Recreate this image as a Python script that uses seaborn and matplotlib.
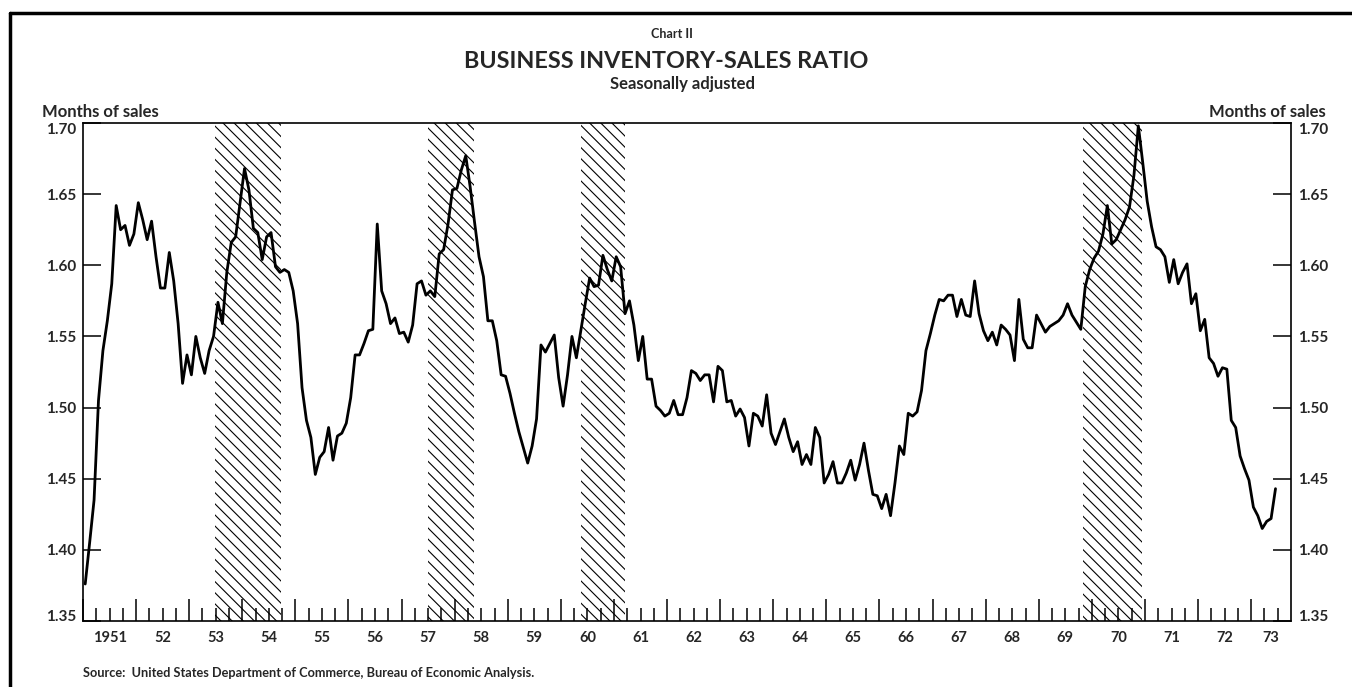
import numpy as np
import pandas as pd
import seaborn as sns
import matplotlib.pyplot as plt
from matplotlib.lines import Line2D

## DATA: business inventory-sales ratio, monthly, Jan 1951 - Jun 1973
ratio_1951 = [1.376, 1.405, 1.435, 1.505, 1.540, 1.561, 1.587, 1.642, 1.625, 1.628, 1.614, 1.622]
ratio_1952 = [1.644, 1.632, 1.618, 1.631, 1.606, 1.584, 1.584, 1.609, 1.589, 1.559, 1.517, 1.537]
ratio_1953 = [1.523, 1.550, 1.535, 1.524, 1.540, 1.550, 1.574, 1.559, 1.595, 1.616, 1.620, 1.644]
ratio_1954 = [1.668, 1.653, 1.626, 1.623, 1.604, 1.620, 1.623, 1.599, 1.595, 1.597, 1.595, 1.582]
ratio_1955 = [1.559, 1.514, 1.491, 1.479, 1.453, 1.465, 1.469, 1.486, 1.463, 1.480, 1.482, 1.489]
ratio_1956 = [1.507, 1.537, 1.537, 1.545, 1.554, 1.555, 1.629, 1.582, 1.573, 1.559, 1.563, 1.552]
ratio_1957 = [1.553, 1.546, 1.558, 1.587, 1.589, 1.579, 1.582, 1.578, 1.608, 1.611, 1.629, 1.653]
ratio_1958 = [1.654, 1.667, 1.677, 1.655, 1.630, 1.606, 1.592, 1.561, 1.561, 1.547, 1.523, 1.522]
ratio_1959 = [1.510, 1.496, 1.483, 1.472, 1.461, 1.473, 1.492, 1.544, 1.539, 1.545, 1.551, 1.521]
ratio_1960 = [1.501, 1.523, 1.550, 1.535, 1.554, 1.573, 1.591, 1.585, 1.586, 1.607, 1.597, 1.589]
ratio_1961 = [1.606, 1.599, 1.566, 1.575, 1.558, 1.533, 1.550, 1.520, 1.520, 1.501, 1.498, 1.494]
ratio_1962 = [1.496, 1.505, 1.495, 1.495, 1.507, 1.526, 1.524, 1.519, 1.523, 1.523, 1.504, 1.529]
ratio_1963 = [1.526, 1.504, 1.505, 1.494, 1.499, 1.493, 1.473, 1.496, 1.494, 1.487, 1.509, 1.482]
ratio_1964 = [1.474, 1.483, 1.492, 1.479, 1.469, 1.476, 1.460, 1.467, 1.460, 1.486, 1.479, 1.447]
ratio_1965 = [1.453, 1.462, 1.447, 1.447, 1.454, 1.463, 1.449, 1.460, 1.475, 1.456, 1.439, 1.438]
ratio_1966 = [1.429, 1.439, 1.424, 1.447, 1.473, 1.467, 1.496, 1.494, 1.497, 1.512, 1.540, 1.552]
ratio_1967 = [1.565, 1.576, 1.575, 1.579, 1.579, 1.564, 1.576, 1.565, 1.564, 1.589, 1.566, 1.554]
ratio_1968 = [1.547, 1.553, 1.544, 1.558, 1.555, 1.551, 1.533, 1.576, 1.548, 1.542, 1.542, 1.565]
ratio_1969 = [1.559, 1.553, 1.557, 1.559, 1.561, 1.565, 1.573, 1.565, 1.560, 1.555, 1.585, 1.597]
ratio_1970 = [1.605, 1.610, 1.622, 1.642, 1.615, 1.618, 1.625, 1.632, 1.641, 1.663, 1.698, 1.672]
ratio_1971 = [1.645, 1.627, 1.613, 1.611, 1.606, 1.588, 1.604, 1.587, 1.595, 1.601, 1.573, 1.580]
ratio_1972 = [1.554, 1.562, 1.535, 1.531, 1.522, 1.528, 1.527, 1.491, 1.486, 1.466, 1.457, 1.449]
ratio_1973 = [1.430, 1.424, 1.415, 1.420, 1.422, 1.443]

# recession periods (shaded), as decimal years
recession_start = [1953.48, 1957.50, 1960.37, 1969.84]
recession_end = [1954.72, 1958.37, 1961.20, 1970.94]

year_labels = ["1951", "52", "53", "54", "55", "56", "57", "58", "59", "60", "61", "62",
               "63", "64", "65", "66", "67", "68", "69", "70", "71", "72", "73"]
y_ticks = [1.35, 1.40, 1.45, 1.50, 1.55, 1.60, 1.65, 1.70]

ratio = (ratio_1951 + ratio_1952 + ratio_1953 + ratio_1954 + ratio_1955 + ratio_1956 +
         ratio_1957 + ratio_1958 + ratio_1959 + ratio_1960 + ratio_1961 + ratio_1962 +
         ratio_1963 + ratio_1964 + ratio_1965 + ratio_1966 + ratio_1967 + ratio_1968 +
         ratio_1969 + ratio_1970 + ratio_1971 + ratio_1972 + ratio_1973)
df = pd.DataFrame({"year": 1951 + (np.arange(len(ratio)) + 0.5) / 12, "ratio": ratio})

x_min, x_max = 1951.0, 1973.75

## PLOT
sns.set_theme(style="white")
plt.rcParams['font.family'] = ['Lato', 'DejaVu Sans']
plt.rcParams['font.weight'] = 'bold'
plt.rcParams['hatch.linewidth'] = 0.8

fig = plt.figure(figsize=(13.52, 6.87), dpi=100)
ax = fig.add_axes([83 / 1352, 1 - 621 / 687, (1291 - 83) / 1352, (621 - 123) / 687])

for s, e in zip(recession_start, recession_end):
    ax.axvspan(s, e, facecolor='none', edgecolor='black', hatch='\\\\\\', linewidth=0, zorder=1)

sns.lineplot(data=df, x="year", y="ratio", color="black", linewidth=2.0, ax=ax, zorder=3)

ax.set_xlim(x_min, x_max)
ax.set_ylim(1.35, 1.70)
ax.set_xlabel("")
ax.set_ylabel("")

for sp in ax.spines.values():
    sp.set_color("black")
    sp.set_linewidth(1.2)

# y axis, labels on both sides
ax.set_yticks(y_ticks)
ax.set_yticklabels([f"{v:.2f}" for v in y_ticks])
ax.tick_params(axis='y', which='major', direction='in', length=13, width=1.1, color='black',
               left=True, right=True, labelleft=True, labelright=True, labelsize=11, pad=5)
# end labels kept inside the frame: 1.35 sits on the bottom line, 1.70 hangs below the top line
yt = ax.yaxis.get_major_ticks()
yt[0].label1.set_va('baseline')
yt[0].label2.set_va('baseline')
yt[-1].label1.set_va('top')
yt[-1].label2.set_va('top')

# x axis: long ticks at each year, short ones at quarters, no labels here
ax.set_xticks(np.arange(1951, 1974))
ax.set_xticks(np.arange(1951, x_max, 0.25), minor=True)
ax.set_xticklabels([])
ax.tick_params(axis='x', which='major', direction='in', length=16, width=1.1, color='black', bottom=True, top=False)
ax.tick_params(axis='x', which='minor', direction='in', length=9.5, width=1.1, color='black', bottom=True, top=False)

# year labels centred in each year (the last one in the part shown)
label_pos = [(max(y, x_min) + min(y + 1, x_max)) / 2 for y in range(1951, 1974)]
sec = ax.secondary_xaxis('bottom')
sec.set_xticks(label_pos)
sec.set_xticklabels(year_labels)
sec.tick_params(length=0, pad=7, labelsize=10.5)
sec.spines['bottom'].set_visible(False)

# titles and notes (baselines)
fig.text(672 / 1352, 1 - 38 / 687, "Chart II", ha='center', va='baseline', fontsize=9, fontweight='bold')
fig.text(666 / 1352, 1 - 68 / 687, "BUSINESS INVENTORY-SALES RATIO", ha='center', va='baseline',
         fontsize=16.8, fontweight='bold')
fig.text(682 / 1352, 1 - 89 / 687, "Seasonally adjusted", ha='center', va='baseline', fontsize=12, fontweight='bold')
fig.text(42 / 1352, 1 - 117 / 687, "Months of sales", ha='left', va='baseline', fontsize=12, fontweight='bold')
fig.text(1326 / 1352, 1 - 117 / 687, "Months of sales", ha='right', va='baseline', fontsize=12, fontweight='bold')
fig.text(83 / 1352, 1 - 673 / 687, "Source:  United States Department of Commerce, Bureau of Economic Analysis.",
         ha='left', va='center', fontsize=9.2, fontweight='bold')

# page frame (top and left edge)
fig.add_artist(Line2D([10 / 1352, 1.0], [1 - 13 / 687, 1 - 13 / 687], transform=fig.transFigure, color='black', lw=2.5))
fig.add_artist(Line2D([10 / 1352, 10 / 1352], [0.0, 1 - 13 / 687], transform=fig.transFigure, color='black', lw=2.5))

fig.savefig("out.png", dpi=100, facecolor='white')
